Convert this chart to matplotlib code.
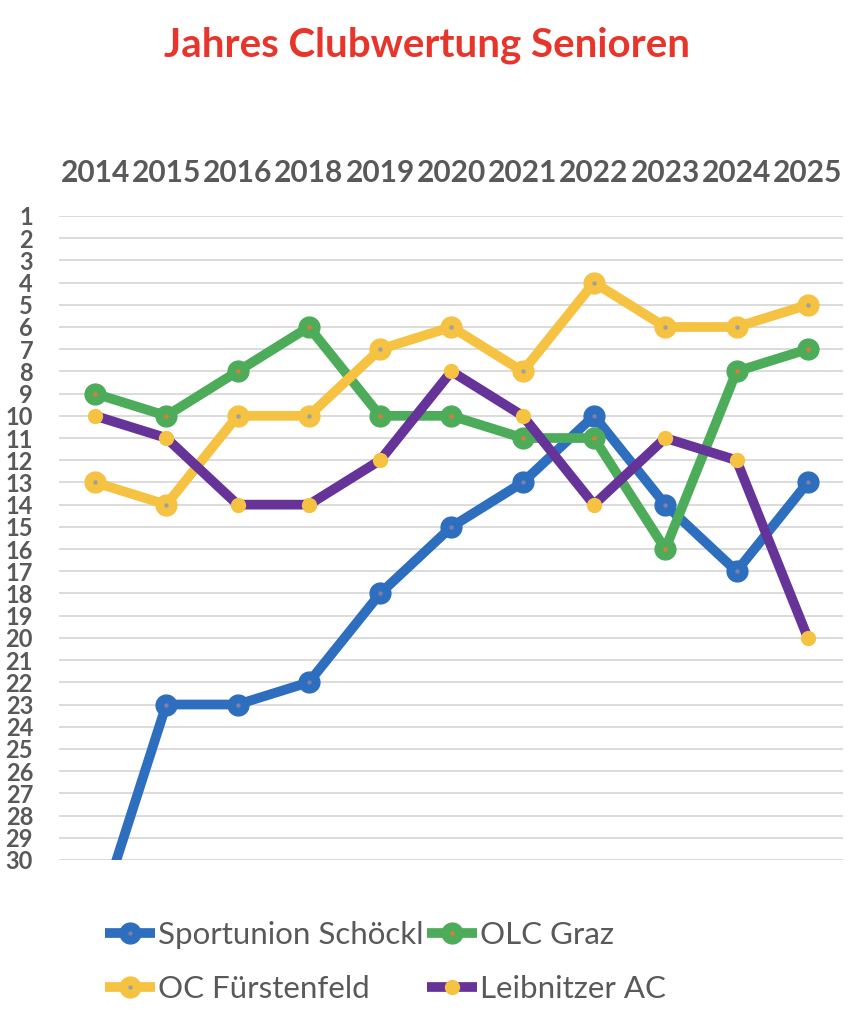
import matplotlib.pyplot as plt
from matplotlib.legend_handler import HandlerTuple

plt.rcParams['font.family'] = ['Lato', 'DejaVu Sans']

# Data: ranking per year (lower = better)
years = ["2014", "2015", "2016", "2018", "2019", "2020", "2021", "2022", "2023", "2024", "2025"]

schoeckl = [33, 23, 23, 22, 18, 15, 13, 10, 14, 17, 13]
olc_graz = [9, 10, 8, 6, 10, 10, 11, 11, 16, 8, 7]
fuerstenfeld = [13, 14, 10, 10, 7, 6, 8, 4, 6, 6, 5]
leibnitz = [10, 11, 14, 14, 12, 8, 10, 14, 11, 12, 20]

ranks = list(range(1, 31))

# Colors
blue = "#2e6ebe"
green = "#4dac5a"
yellow = "#f5c242"
purple = "#663399"
grey_txt = "#595959"

fig = plt.figure(figsize=(8.49, 10.24), dpi=100)
ax = fig.add_axes([0.070, 0.1602, 0.9235, 0.6289])

x = range(len(years))

# series: (values, label, line color, marker color, marker size, dot color)
series = [
    (schoeckl, "Sportunion Schöckl", blue, blue, 15, "#7f7fa8"),
    (olc_graz, "OLC Graz", green, green, 15, "#e07b39"),
    (fuerstenfeld, "OC Fürstenfeld", yellow, yellow, 15, "#a0a0a0"),
    (leibnitz, "Leibnitzer AC", purple, yellow, 10, yellow),
]

handles = []
labels = []
for vals, lab, lc, mc, ms, dc in series:
    ln, = ax.plot(x, vals, color=lc, linewidth=7, marker="o", markersize=ms,
                  markerfacecolor=mc, markeredgecolor=mc, solid_joinstyle="round",
                  solid_capstyle="butt")
    dot, = ax.plot(x, vals, linestyle="none", marker="o", markersize=2.2,
                   markerfacecolor=dc, markeredgecolor=dc)
    handles.append((ln, dot))
    labels.append(lab)

ax.set_xlim(-0.5, len(years) - 0.5)
ax.set_ylim(30, 1)
ax.set_yticks(ranks)
ax.set_yticklabels([str(r) for r in ranks], fontsize=17, fontweight="bold", color=grey_txt)
ax.set_xticks(list(x))
ax.set_xticklabels(years, fontsize=21.5, fontweight="bold", color=grey_txt)
ax.xaxis.tick_top()
ax.tick_params(axis="both", length=0)
ax.tick_params(axis="y", pad=19)
ax.tick_params(axis="x", pad=21)

ax.grid(axis="y", color="#d9d9d9", linewidth=1.3)
ax.set_axisbelow(True)
for s in ax.spines.values():
    s.set_visible(False)

fig.text(0.503, 0.956, "Jahres Clubwertung Senioren", ha="center", va="center",
         fontsize=29, fontweight="bold", color="#e8352b")

# legend is filled column by column, so reorder to get rows like the original
order = [0, 2, 1, 3]
leg = fig.legend([handles[i] for i in order], [labels[i] for i in order],
                 handler_map={tuple: HandlerTuple(ndivide=1)},
                 loc="upper left", bbox_to_anchor=(0.124, 0.101), ncol=2,
                 frameon=False, fontsize=22.5, handlelength=1.6, handletextpad=0.1,
                 columnspacing=0.1, labelspacing=0.85, labelcolor=grey_txt,
                 borderpad=0, borderaxespad=0)

fig.savefig("out.png", dpi=100)
